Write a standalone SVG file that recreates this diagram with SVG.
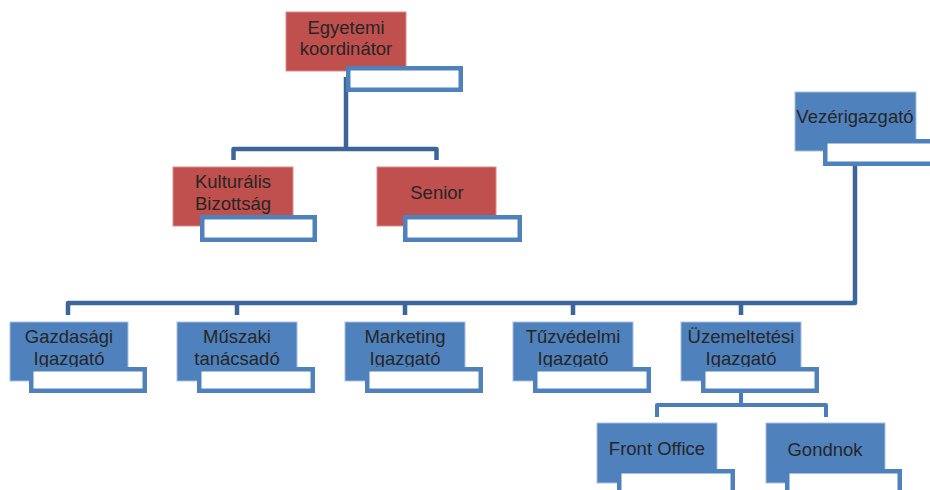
<svg xmlns="http://www.w3.org/2000/svg" width="930" height="490" viewBox="0 0 930 490">
<style>
.red{fill:#C0504D;stroke:#D98C8A;stroke-width:1}
.blue{fill:#4F81BD;stroke:#A7C0DE;stroke-width:1}
.sub{fill:#FFFFFF;stroke:#4F81BD;stroke-width:4.5}
.t{font-family:"Liberation Sans",Arial,sans-serif;font-size:18.5px;fill:#262626;text-anchor:middle}
.c{fill:none;stroke:#3C6699;stroke-width:4.5;stroke-linejoin:round}
.c2{fill:none;stroke:#4A7EBB;stroke-width:4;stroke-linejoin:round}
</style>
<rect width="930" height="490" fill="#FFFFFF"/>
<g id="connectors">
<path class="c" d="M346,77 V149 M233.5,160 V149 H436.5 V160"/>
<path class="c" d="M855,160 V303 H68 V315 M237,303 V315 M405,303 V315 M573,303 V315 M741,303 V315"/>
<path class="c2" d="M741,390 V405 M657,417 V405 H826 V417"/>
</g>
<g id="egyetemi">
<rect class="red" x="286" y="12" width="120" height="59"/>
<text class="t" x="346" y="34">Egyetemi</text>
<text class="t" x="346" y="55">koordinátor</text>
<rect class="sub" x="348.25" y="68.25" width="112.5" height="21.5"/>
</g>
<g id="kulturalis">
<rect class="red" x="173" y="167" width="120" height="59"/>
<text class="t" x="233" y="188">Kulturális</text>
<text class="t" x="233" y="210">Bizottság</text>
<rect class="sub" x="202.25" y="217.25" width="112.5" height="22.5"/>
</g>
<g id="senior">
<rect class="red" x="377" y="167" width="119" height="59"/>
<text class="t" x="437" y="199">Senior</text>
<rect class="sub" x="405.25" y="217.25" width="114.5" height="22.5"/>
</g>
<g id="vezerigazgato">
<rect class="blue" x="795" y="92" width="121" height="59"/>
<text class="t" x="855" y="123">Vezérigazgató</text>
<rect class="sub" x="825.25" y="141.25" width="112" height="22.5"/>
</g>
<g id="gazdasagi">
<rect class="blue" x="10" y="322" width="118" height="59"/>
<text class="t" x="69" y="343">Gazdasági</text>
<text class="t" x="69" y="365">Igazgató</text>
<rect class="sub" x="31.25" y="369.25" width="113.5" height="21.5"/>
</g>
<g id="muszaki">
<rect class="blue" x="177" y="322" width="120" height="59"/>
<text class="t" x="237" y="343">Műszaki</text>
<text class="t" x="237" y="365">tanácsadó</text>
<rect class="sub" x="199.25" y="369.25" width="113.5" height="21.5"/>
</g>
<g id="marketing">
<rect class="blue" x="345" y="322" width="120" height="59"/>
<text class="t" x="405" y="343">Marketing</text>
<text class="t" x="405" y="365">Igazgató</text>
<rect class="sub" x="367.25" y="369.25" width="113.5" height="21.5"/>
</g>
<g id="tuzvedelmi">
<rect class="blue" x="513" y="322" width="120" height="59"/>
<text class="t" x="573" y="343">Tűzvédelmi</text>
<text class="t" x="573" y="365">Igazgató</text>
<rect class="sub" x="535.25" y="369.25" width="113.5" height="21.5"/>
</g>
<g id="uzemeltetesi">
<rect class="blue" x="681" y="322" width="120" height="59"/>
<text class="t" x="741" y="343">Üzemeltetési</text>
<text class="t" x="741" y="365">Igazgató</text>
<rect class="sub" x="703.25" y="369.25" width="113.5" height="21.5"/>
</g>
<g id="frontoffice">
<rect class="blue" x="597" y="423" width="120" height="60"/>
<text class="t" x="657" y="455">Front Office</text>
<rect class="sub" x="619.25" y="471.25" width="113.5" height="30"/>
</g>
<g id="gondnok">
<rect class="blue" x="766" y="423" width="119" height="60"/>
<text class="t" x="825" y="456">Gondnok</text>
<rect class="sub" x="787.25" y="471.25" width="112.5" height="30"/>
</g>
</svg>
